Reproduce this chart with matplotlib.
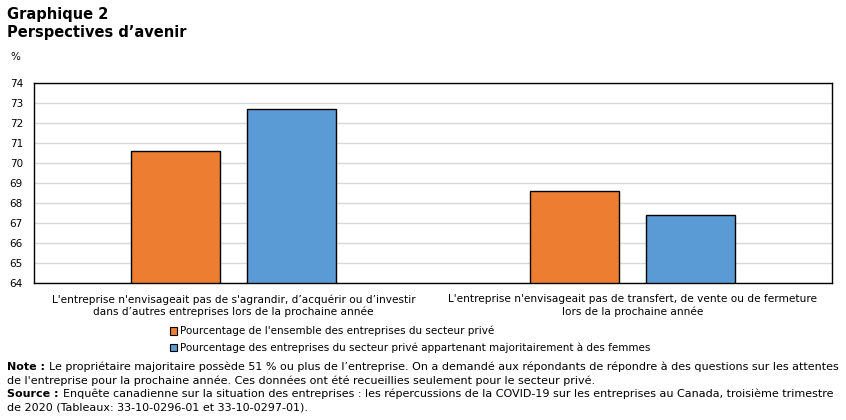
import numpy as np
import matplotlib.pyplot as plt
from matplotlib.patches import Patch

categories = [
    "L'entreprise n'envisageait pas de s'agrandir, d\u2019acqu\u00e9rir ou d\u2019investir\ndans d\u2019autres entreprises lors de la prochaine ann\u00e9e",
    "L'entreprise n'envisageait pas de transfert, de vente ou de fermeture\nlors de la prochaine ann\u00e9e",
]
series_names = [
    "Pourcentage de l'ensemble des entreprises du secteur priv\u00e9",
    "Pourcentage des entreprises du secteur priv\u00e9 appartenant majoritairement \u00e0 des femmes",
]
all_private = [70.6, 68.6]
women_owned = [72.7, 67.4]
yticks = list(range(64, 75))

orange = "#ED7D31"
blue = "#5B9BD5"

plt.rcParams['font.family'] = ['DejaVu Sans']

fig = plt.figure(figsize=(8.46, 4.2), dpi=100)
ax = fig.add_axes([34 / 846, 1 - 283 / 420, 798 / 846, 200 / 420])

x = np.arange(len(categories))
w = 0.223
off = 0.145
ax.bar(x - off, [v - 64 for v in all_private], w, bottom=64, color=orange,
       edgecolor="black", linewidth=1, zorder=3)
ax.bar(x + off, [v - 64 for v in women_owned], w, bottom=64, color=blue,
       edgecolor="black", linewidth=1, zorder=3)

ax.set_xlim(-0.5, 1.5)
ax.set_ylim(64, 74)
ax.set_yticks(yticks)
ax.set_yticklabels([str(t) for t in yticks], fontsize=7.5)
ax.yaxis.grid(True, color="#d9d9d9", linewidth=1, zorder=0)
ax.tick_params(axis="y", length=0, pad=8)
ax.set_xticks(x)
ax.set_xticklabels(categories, fontsize=7.6, linespacing=1.25)
ax.tick_params(axis="x", length=0, pad=8)
for s in ax.spines.values():
    s.set_linewidth(1)
    s.set_color("black")

fig.text(7 / 846, 1 - 14 / 420, "Graphique 2", fontsize=10.5, fontweight="bold", va="center")
fig.text(7 / 846, 1 - 32 / 420, "Perspectives d\u2019avenir", fontsize=10.5, fontweight="bold", va="center")
fig.text(10 / 846, 1 - 57 / 420, "%", fontsize=7.5, va="center")

handles = [Patch(facecolor=orange, edgecolor="black", linewidth=0.8),
           Patch(facecolor=blue, edgecolor="black", linewidth=0.8)]
fig.legend(handles, series_names, loc="upper left", bbox_to_anchor=(170 / 846, 1 - 326 / 420),
           frameon=False, fontsize=7.5, handlelength=0.7, handleheight=0.7,
           handletextpad=0.25, labelspacing=0.62, borderaxespad=0, borderpad=0)

fs = 8
renderer = fig.canvas.get_renderer()


def note_line(y, bold, rest):
    xpos = 7 / 846
    if bold:
        t = fig.text(xpos, 1 - y / 420, bold, fontsize=fs, fontweight="bold", va="center")
        bb = t.get_window_extent(renderer)
        xpos = (bb.x1 + 4) / 846
    fig.text(xpos, 1 - y / 420, rest, fontsize=fs, va="center")


note_line(367, "Note :", "Le propri\u00e9taire majoritaire poss\u00e8de 51 % ou plus de l\u2019entreprise. On a demand\u00e9 aux r\u00e9pondants de r\u00e9pondre \u00e0 des questions sur les attentes")
note_line(381, None, "de l'entreprise pour la prochaine ann\u00e9e. Ces donn\u00e9es ont \u00e9t\u00e9 recueillies seulement pour le secteur priv\u00e9.")
note_line(394, "Source :", "Enqu\u00eate canadienne sur la situation des entreprises : les r\u00e9percussions de la COVID-19 sur les entreprises au Canada, troisi\u00e8me trimestre")
note_line(408, None, "de 2020 (Tableaux: 33-10-0296-01 et 33-10-0297-01).")

fig.savefig("out.png", dpi=100)
